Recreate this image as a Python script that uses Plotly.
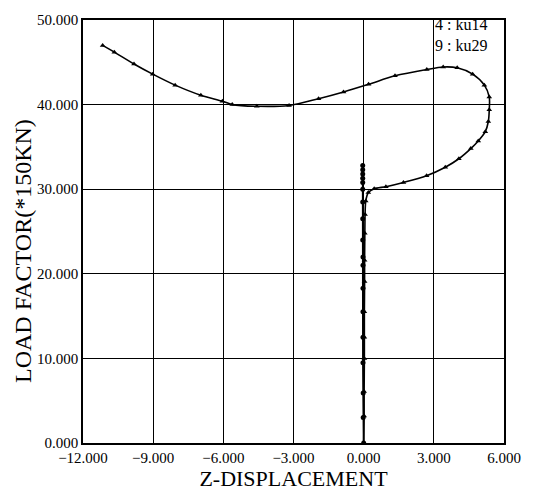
import plotly.graph_objects as go

# ku14 : stays on the vertical axis
ku14_x = [0.0, -0.02, -0.02, -0.03, -0.03, -0.03, -0.03, -0.03, -0.03, -0.04, -0.04, -0.04, -0.04, -0.04, -0.04, -0.04, -0.04, -0.04]
ku14_y = [0.0, 3.0, 5.9, 9.5, 12.5, 15.5, 18.3, 21.0, 22.0, 24.0, 26.5, 28.5, 30.0, 30.8, 31.3, 31.8, 32.3, 32.8]

# ku29 : snap-through path
ku29_x = [0.0, 0.02, 0.02, 0.03, 0.03, 0.03, 0.04, 0.04, 0.05, 0.06, 0.09, 0.20, 0.45, 0.95, 1.70, 2.69,
          3.49, 4.07, 4.58, 4.90, 5.20, 5.33, 5.37, 5.37, 5.16, 4.66, 4.00, 3.40, 2.70, 1.34, 0.21,
          -0.86, -1.93, -3.19, -4.57, -5.62, -6.04, -6.96, -8.06, -9.02, -9.82, -10.66, -11.16]
ku29_y = [0.0, 3.2, 6.1, 10.0, 12.5, 15.5, 19.1, 21.6, 24.8, 27.0, 28.6, 29.6, 30.05, 30.3, 30.8, 31.6,
          32.6, 33.6, 34.8, 35.7, 36.8, 38.0, 39.4, 40.9, 42.3, 43.6, 44.35, 44.45, 44.15, 43.4, 42.4,
          41.5, 40.7, 39.9, 39.8, 40.0, 40.4, 41.1, 42.3, 43.6, 44.8, 46.2, 47.0]

x_ticks = [-12, -9, -6, -3, 0, 3, 6]
y_ticks = [0, 10, 20, 30, 40, 50]
legend_lines = ["4 : ku14", "9 : ku29"]

SERIF = "Liberation Serif, Times New Roman, serif"

fig = go.Figure()
fig.add_trace(go.Scatter(x=ku14_x, y=ku14_y, mode="lines+markers", name="ku14",
                         line=dict(color="black", width=1.8),
                         marker=dict(symbol="circle", size=5, color="black")))
fig.add_trace(go.Scatter(x=ku29_x, y=ku29_y, mode="lines+markers", name="ku29",
                         line=dict(color="black", width=1.6, shape="spline", smoothing=0.8),
                         marker=dict(symbol="triangle-up", size=5, color="black")))

fig.add_annotation(xref="paper", yref="paper", x=0.965, y=1.015, xanchor="right", yanchor="top",
                   text="<br>".join(legend_lines), showarrow=False, align="left",
                   font=dict(family=SERIF, size=16, color="black"))

axis_common = dict(showgrid=True, gridcolor="black", gridwidth=1, showline=True, linecolor="black",
                   linewidth=1.5, mirror=True, zeroline=False, ticks="", tickformat=".3f",
                   tickfont=dict(family=SERIF, size=15, color="black"))

fig.update_xaxes(range=[-12, 6], tickvals=x_ticks, ticklabelstandoff=0,
                 title=dict(text="Z-DISPLACEMENT", font=dict(family=SERIF, size=22, color="black"), standoff=3),
                 **axis_common)
fig.update_yaxes(range=[0, 50], tickvals=y_ticks, ticklabelstandoff=0, **axis_common)

# y-axis title placed as rotated text
fig.add_annotation(xref="paper", yref="paper", x=(22 - 83) / 424, y=0.455, xanchor="center", yanchor="middle",
                   text="LOAD FACTOR(*150KN)", textangle=-90, showarrow=False,
                   font=dict(family=SERIF, size=24, color="black"))

fig.update_layout(width=533, height=498, margin=dict(l=83, r=26, t=12, b=55),
                  paper_bgcolor="white", plot_bgcolor="white", showlegend=False)

fig.write_html("out.html")
